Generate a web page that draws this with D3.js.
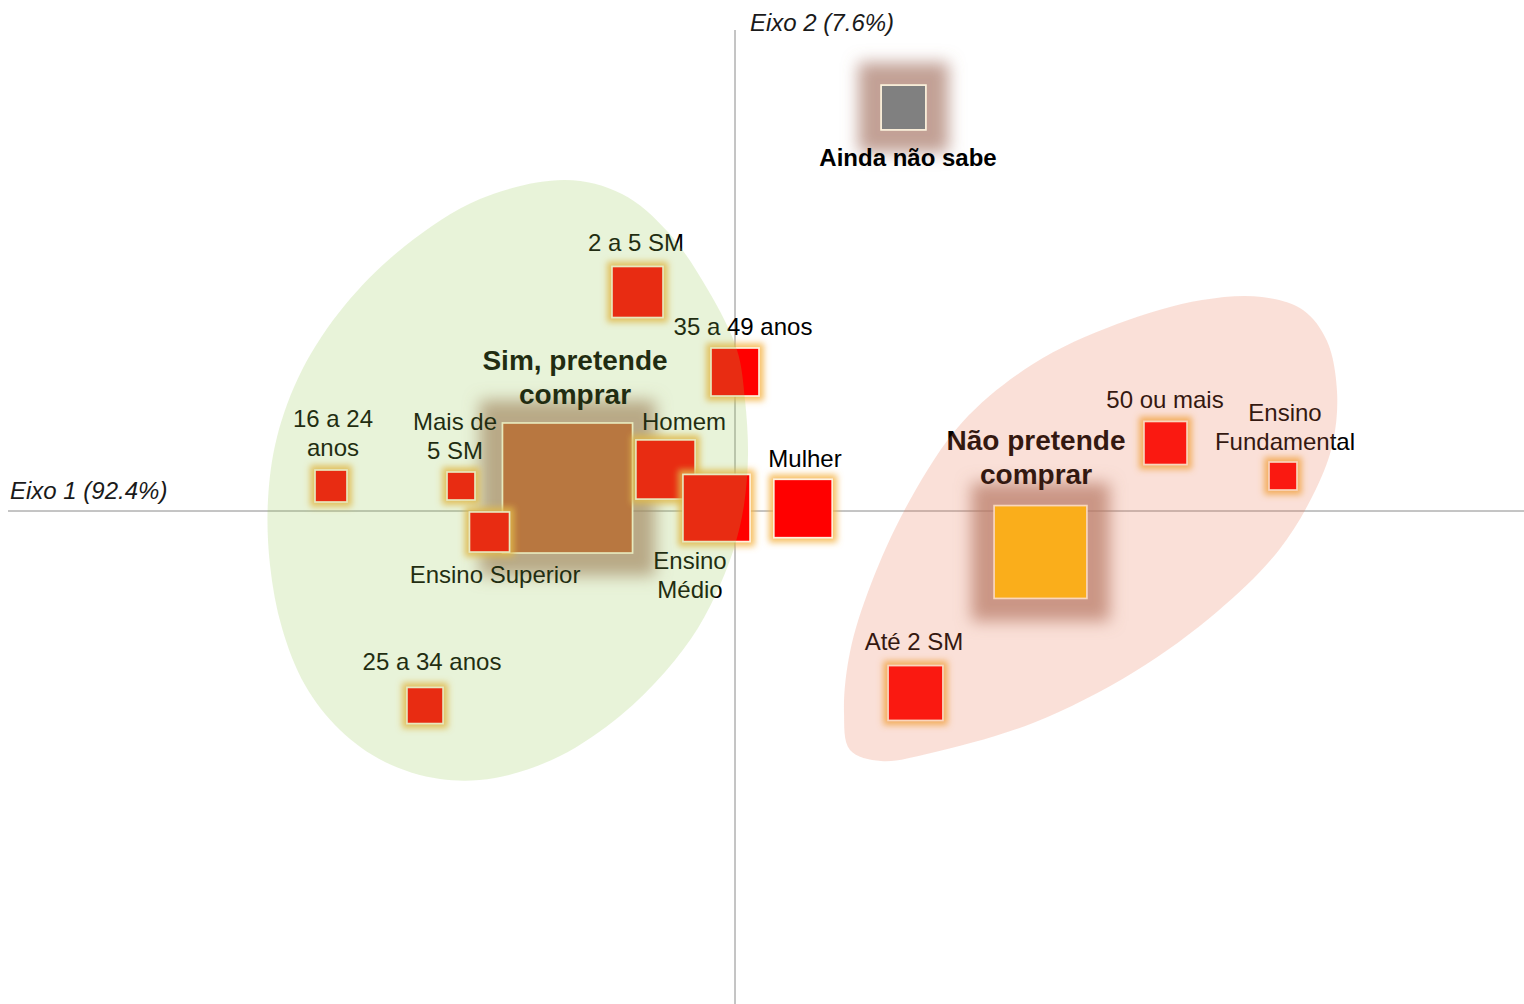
<!DOCTYPE html>
<html>
<head>
<meta charset="utf-8">
<script src="https://cdn.jsdelivr.net/npm/d3@7/dist/d3.min.js"></script>
<style>
  html, body { margin: 0; padding: 0; background: #fff; }
  svg { display: block; }
  text { font-family: "Liberation Sans", Arial, sans-serif; }
</style>
</head>
<body>
<svg id="chart" width="1524" height="1004"></svg>
<script>
// ---------------- DATA ----------------
const categories = [
  "Ainda não sabe", "2 a 5 SM", "35 a 49 anos", "Homem", "Ensino Médio",
  "Mulher", "Sim, pretende comprar", "Mais de 5 SM", "16 a 24 anos",
  "Ensino Superior", "25 a 34 anos", "Não pretende comprar", "50 ou mais",
  "Ensino Fundamental", "Até 2 SM"
];
// label lines as shown on the chart
const labelLines = [
  ["Ainda não sabe"], ["2 a 5 SM"], ["35 a 49 anos"], ["Homem"], ["Ensino", "Médio"],
  ["Mulher"], ["Sim, pretende", "comprar"], ["Mais de", "5 SM"], ["16 a 24", "anos"],
  ["Ensino Superior"], ["25 a 34 anos"], ["Não pretende", "comprar"], ["50 ou mais"],
  ["Ensino", "Fundamental"], ["Até 2 SM"]
];
// coordinates on axis 1 and axis 2
const axis1 = [0.337, -0.195, 0.000, -0.139, -0.037, 0.136, -0.335, -0.548, -0.808,
               -0.491, -0.620, 0.611, 0.861, 1.096, 0.361];
const axis2 = [0.807, 0.438, 0.278, 0.083, 0.006, 0.005, 0.046, 0.050, 0.050,
               -0.042, -0.389, -0.082, 0.136, 0.070, -0.364];
// relative weight (mass) of each category
const weights = [20, 26, 23, 35, 45, 34, 169, 7.8, 10.2, 16, 13, 86, 18.5, 7.8, 30];
// kind: outcome categories vs. profile categories
const kinds = ["ainda", "perfil", "perfil", "perfil", "perfil", "perfil", "sim", "perfil",
               "perfil", "perfil", "perfil", "nao", "perfil", "perfil", "perfil"];
// axis titles
const axisTitles = ["Eixo 1 (92.4%)", "Eixo 2 (7.6%)"];
// group regions (outline in axis coordinates)
const groupSim = [
  [-0.340, 0.662], [-0.226, 0.634], [-0.134, 0.558], [-0.054, 0.442], [0.004, 0.322],
  [0.020, 0.222], [0.026, 0.112], [0.018, 0.012], [0.000, -0.068], [-0.030, -0.148],
  [-0.074, -0.234], [-0.140, -0.322], [-0.230, -0.410], [-0.350, -0.490], [-0.480, -0.534],
  [-0.590, -0.536], [-0.700, -0.502], [-0.790, -0.438], [-0.860, -0.348], [-0.906, -0.234],
  [-0.930, -0.108], [-0.934, 0.022], [-0.916, 0.148], [-0.866, 0.282], [-0.780, 0.412],
  [-0.660, 0.530], [-0.510, 0.624]
];
const groupNao = [
  [1.054, 0.428], [1.136, 0.402], [1.184, 0.340], [1.204, 0.240], [1.196, 0.138],
  [1.162, 0.044], [1.088, -0.078], [0.966, -0.200], [0.798, -0.322], [0.596, -0.424],
  [0.392, -0.484], [0.292, -0.500], [0.230, -0.478], [0.218, -0.402], [0.230, -0.282],
  [0.272, -0.146], [0.350, 0.022], [0.455, 0.178], [0.596, 0.294], [0.764, 0.374],
  [0.934, 0.422]
];

// ---------------- LAYOUT / STYLE ----------------
const kindFill = { perfil: "#FF0000", sim: "#C2613B", nao: "#FFBF08", ainda: "#808080" };
// label offsets (px) from the square centre: [dx, dy of first baseline]
const labelOffsets = [
  [4.5, 58.5], [-1.5, -41], [8, -37], [18.5, -39.5], [-26.5, 61],
  [2, -41.5], [7.5, -118], [-6, -56], [2, -59],
  [5.5, 51], [7, -35.5], [-4.5, -102], [-0.5, -35],
  [2, -55], [-1.5, -43]
];

const x = d3.scaleLinear().domain([-1.454, 1.578]).range([8, 1524]);
const y = d3.scaleLinear().domain([-0.986, 0.962]).range([1004, 30]);
const side = d3.scaleSqrt().domain([0, 169]).range([0, 130]);

const svg = d3.select("#chart");
const defs = svg.append("defs");

function glow(id, dilate, blur, color, opacity) {
  const f = defs.append("filter").attr("id", id)
    .attr("x", "-150%").attr("y", "-150%").attr("width", "400%").attr("height", "400%");
  f.append("feMorphology").attr("in", "SourceAlpha").attr("operator", "dilate")
    .attr("radius", dilate).attr("result", "d");
  f.append("feGaussianBlur").attr("in", "d").attr("stdDeviation", blur).attr("result", "b");
  f.append("feFlood").attr("flood-color", color).attr("flood-opacity", opacity).attr("result", "c");
  f.append("feComposite").attr("in", "c").attr("in2", "b").attr("operator", "in").attr("result", "g");
  const m = f.append("feMerge");
  m.append("feMergeNode").attr("in", "g");
  m.append("feMergeNode").attr("in", "SourceGraphic");
}
glow("glowSmall", 4, 3, "#F5B548", 0.85);
glow("glowBig", 22, 8, "#A87868", 0.7);

const data = categories.map((c, i) => ({
  name: c, lines: labelLines[i], a1: axis1[i], a2: axis2[i], w: weights[i], kind: kinds[i],
  off: labelOffsets[i]
}));

// axes lines
svg.append("line")
  .attr("x1", x.range()[0]).attr("x2", x.range()[1])
  .attr("y1", y(0)).attr("y2", y(0))
  .attr("stroke", "#8a8a8a").attr("stroke-width", 1);
svg.append("line")
  .attr("x1", x(0)).attr("x2", x(0))
  .attr("y1", y.range()[1]).attr("y2", y.range()[0])
  .attr("stroke", "#8a8a8a").attr("stroke-width", 1);

svg.append("text").attr("x", 10).attr("y", y(0) - 12)
  .attr("font-size", 24).attr("font-style", "italic").attr("fill", "#1a1a1a")
  .text(axisTitles[0]);
svg.append("text").attr("x", x(0) + 15).attr("y", 31)
  .attr("font-size", 24).attr("font-style", "italic").attr("fill", "#1a1a1a")
  .text(axisTitles[1]);

// squares: outcome categories first, then profile categories
const order = data.filter(d => d.kind !== "perfil").concat(data.filter(d => d.kind === "perfil"));
svg.append("g").selectAll("rect").data(order).join("rect")
  .attr("x", d => x(d.a1) - side(d.w) / 2)
  .attr("y", d => y(d.a2) - side(d.w) / 2)
  .attr("width", d => side(d.w))
  .attr("height", d => side(d.w))
  .attr("fill", d => kindFill[d.kind])
  .attr("stroke", "#FFF3DC").attr("stroke-width", 1.6)
  .attr("filter", d => d.kind === "perfil" ? "url(#glowSmall)" : "url(#glowBig)");

// labels
const fontSize = d => d.kind === "sim" || d.kind === "nao" ? 28 : 24;
const lab = svg.append("g").selectAll("text").data(data).join("text")
  .attr("text-anchor", "middle")
  .attr("font-size", fontSize)
  .attr("font-weight", d => d.kind === "perfil" ? "normal" : "bold")
  .attr("fill", "#000")
  .attr("transform", d => `translate(${x(d.a1) + d.off[0]},${y(d.a2) + d.off[1]})`);
lab.selectAll("tspan").data(d => d.lines.map((l, j) => ({ l, j, fs: fontSize(d) })))
  .join("tspan")
  .attr("x", 0)
  .attr("dy", t => t.j === 0 ? 0 : t.fs * 1.2)
  .text(t => t.l);

// group regions drawn as translucent overlays
const outline = d3.line().x(p => x(p[0])).y(p => y(p[1])).curve(d3.curveCatmullRomClosed.alpha(0.5));
svg.append("path").attr("d", outline(groupSim))
  .attr("fill", "rgb(150,200,82)").attr("fill-opacity", 0.22);
svg.append("path").attr("d", outline(groupNao))
  .attr("fill", "rgb(232,114,77)").attr("fill-opacity", 0.22);
</script>
</body>
</html>
